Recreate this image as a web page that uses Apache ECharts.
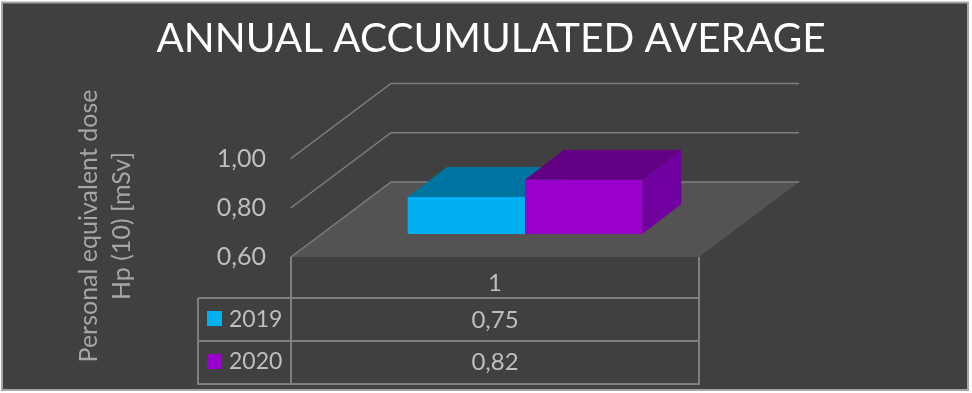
<!DOCTYPE html>
<html>
<head>
<meta charset="utf-8">
<style>
    html, body { margin: 0; padding: 0; background: #fff; }
    #chart { width: 972px; height: 393px; }
</style>
<script src="https://cdn.jsdelivr.net/npm/echarts@6/dist/echarts.min.js"></script>
</head>
<body>
<div id="chart"></div>
<script>
const categories = ['1']
const years = ['2019', '2020']
const values2019 = [0.75]
const values2020 = [0.82]
const ticks = [0.6, 0.8, 1.0]

const font = 'Lato'
const textColor = '#bfbfbf'
const lineColor = '#7f7f7f'
const frontColors = ['#00b0f0', '#9900cc']
const topColors = ['#0074a0', '#630084']
const sideColors = ['#0083b4', '#7000a0']

const comma = v => v.toFixed(2).replace('.', ',')

// depth of the fake 3d box
const wallDx = 100
const wallDy = -75
const barDx = 39
const barDy = -30
const barLift = 23
const barShift = 30
const barRatio = 0.2875

const renderWall = function (params, api) {
    const value = api.value(0)
    const p = api.coord([0, value])
    const band = api.size([1, 0])[0]
    const left = p[0] - band / 2
    const right = p[0] + band / 2
    const children = []
    if (value === ticks[0]) {
        children.push({
            type: 'polygon',
            shape: { points: [[left, p[1]], [right, p[1]], [right + wallDx, p[1] + wallDy], [left + wallDx, p[1] + wallDy]] },
            style: { fill: '#545252' }
        })
    }
    children.push({
        type: 'polyline',
        shape: { points: [[left, p[1]], [left + wallDx, p[1] + wallDy], [right + wallDx, p[1] + wallDy]] },
        style: { stroke: lineColor, lineWidth: 1.5, fill: 'none' }
    })
    return { type: 'group', children }
}

const renderBox = function (i) {
    return function (params, api) {
        const top = api.coord([api.value(0), api.value(1)])
        const base = api.coord([api.value(0), ticks[0]])
        const band = api.size([1, 0])[0]
        const w = band * barRatio
        const x0 = top[0] + barShift + (i - 1) * w
        const x1 = x0 + w
        const y0 = top[1] - barLift
        const y1 = base[1] - barLift
        return {
            type: 'group',
            children: [
                {
                    type: 'polygon',
                    shape: { points: [[x1, y0], [x1 + barDx, y0 + barDy], [x1 + barDx, y1 + barDy], [x1, y1]] },
                    style: { fill: sideColors[i] }
                },
                {
                    type: 'polygon',
                    shape: { points: [[x0, y0], [x1, y0], [x1 + barDx, y0 + barDy], [x0 + barDx, y0 + barDy]] },
                    style: { fill: topColors[i] }
                },
                {
                    type: 'rect',
                    shape: { x: x0, y: y0, width: w, height: y1 - y0 },
                    style: { fill: frontColors[i] }
                }
            ]
        }
    }
}

const vline = (x, y1, y2) => ({
    type: 'line',
    shape: { x1: x, y1, x2: x, y2 },
    style: { stroke: lineColor, lineWidth: 2 }
})
const hline = (y, x1, x2) => ({
    type: 'line',
    shape: { x1, y1: y, x2, y2: y },
    style: { stroke: lineColor, lineWidth: 2 }
})
const label = (x, y, text, align, size) => ({
    type: 'text',
    x,
    y,
    style: { text, fill: textColor, font: (size || 24) + 'px ' + font, textAlign: align || 'center', textVerticalAlign: 'middle' }
})

const table = [
    vline(291, 257, 385), vline(699, 257, 385), vline(198, 298, 385),
    hline(298, 198, 699), hline(341, 198, 699), hline(384, 198, 699),
    { type: 'rect', shape: { x: 207, y: 311, width: 15, height: 15 }, style: { fill: frontColors[0] } },
    { type: 'rect', shape: { x: 207, y: 354, width: 15, height: 15 }, style: { fill: frontColors[1] } },
    label(229, 320, years[0], 'left', 23),
    label(229, 362, years[1], 'left', 23),
    label(495, 320, comma(values2019[0])),
    label(495, 362, comma(values2020[0]))
]

const chart = echarts.init(document.getElementById('chart'), null, { renderer: 'canvas' })
chart.setOption({
    backgroundColor: '#ffffff',
    animation: false,
    title: {
        text: 'ANNUAL ACCUMULATED AVERAGE',
        left: 486,
        top: 13,
        textAlign: 'center',
        textStyle: { color: '#ffffff', fontFamily: font, fontWeight: 'normal', fontSize: 40.5 }
    },
    grid: { left: 291, right: 273, top: 158.5, bottom: 136 },
    xAxis: {
        type: 'category',
        data: categories,
        axisLine: { show: false },
        axisTick: { show: false },
        axisLabel: { color: textColor, fontFamily: font, fontSize: 24, margin: 14 }
    },
    yAxis: {
        type: 'value',
        min: 0.6,
        max: 1.0,
        interval: 0.2,
        axisLine: { show: false },
        axisTick: { show: false },
        splitLine: { show: false },
        axisLabel: { color: textColor, fontFamily: font, fontSize: 25, margin: 25, padding: [4, 0, 0, 0], formatter: comma }
    },
    graphic: [
        {
            type: 'rect',
            z: -1,
            shape: { x: 2, y: 2.5, width: 966, height: 387.5 },
            style: { fill: '#404040', stroke: '#a6a6a6', lineWidth: 2 }
        },
        {
            type: 'text',
            x: 105,
            y: 226,
            rotation: Math.PI / 2,
            style: {
                text: 'Personal equivalent dose\nHp (10) [mSv]',
                fill: '#a6a6a6',
                font: '25px ' + font,
                textAlign: 'center',
                textVerticalAlign: 'middle',
                lineHeight: 33
            }
        },
        { type: 'group', children: table }
    ],
    series: [
        { type: 'custom', name: 'wall', renderItem: renderWall, data: ticks.map(v => [v]), encode: { y: 0 }, z: 1, silent: true },
        { type: 'custom', name: years[0], renderItem: renderBox(0), data: values2019.map((v, i) => [i, v]), encode: { x: 0, y: 1 }, z: 2 },
        { type: 'custom', name: years[1], renderItem: renderBox(1), data: values2020.map((v, i) => [i, v]), encode: { x: 0, y: 1 }, z: 3 }
    ]
})
</script>
</body>
</html>
